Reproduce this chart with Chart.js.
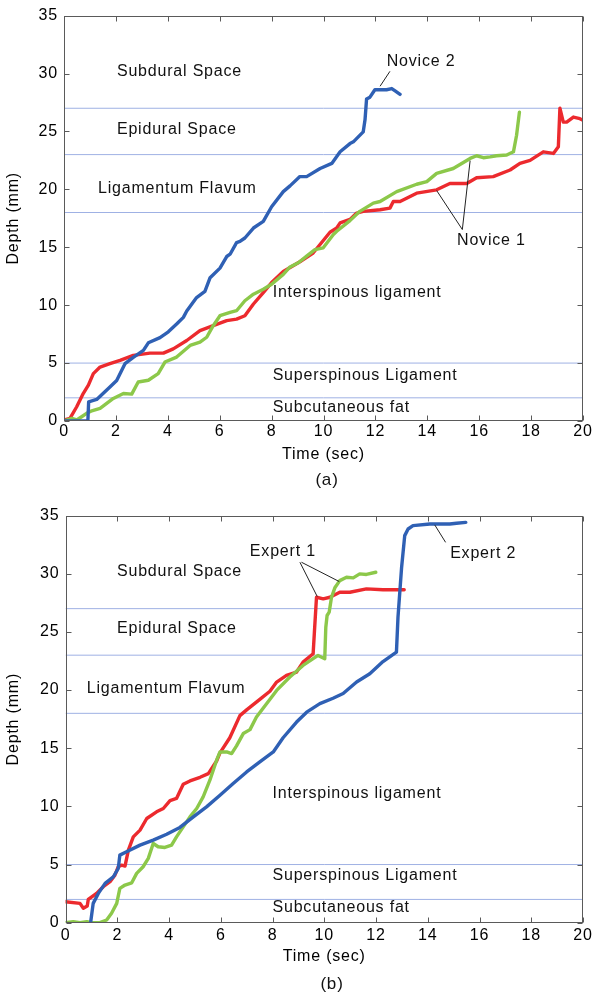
<!DOCTYPE html>
<html>
<head>
<meta charset="utf-8">
<script src="https://cdn.jsdelivr.net/npm/chart.js@4.4.1/dist/chart.umd.min.js"></script>
<style>
html,body{margin:0;padding:0;background:#fff;}
#wrap{width:599px;height:1001px;overflow:hidden;}
canvas{display:block;}
</style>
</head>
<body>
<div id="wrap">
<canvas id="chartA" width="599" height="500"></canvas>
<canvas id="chartB" width="599" height="501"></canvas>
</div>
<script>
// ---------- axis ranges / ticks ----------
const X_MIN = 0, X_MAX = 20, X_STEP = 2;
const Y_MIN = 0, Y_MAX = 35, Y_STEP = 5;
const X_TITLE = 'Time (sec)';
const Y_TITLE = 'Depth (mm)';

// ---------- tissue boundaries (mm) and names ----------
const boundaries = [2, 5, 18, 23, 27];
const regionNames = ['Subdural Space', 'Epidural Space', 'Ligamentum Flavum',
                     'Interspinous ligament', 'Superspinous Ligament', 'Subcutaneous fat'];

// ---------- (a) Novice 2 (blue) ----------
const novice2T = [0, 0.5, 0.92, 0.95, 1.26, 1.77, 2.03, 2.35, 2.67, 3.06, 3.25, 3.7, 4.02, 4.34, 4.6, 4.73, 5.11, 5.43, 5.63, 6.01, 6.27, 6.4, 6.65, 6.78, 6.97, 7.3, 7.68, 8.0, 8.45, 8.71, 9.09, 9.35, 9.87, 10.32, 10.64, 11.02, 11.15, 11.53, 11.6, 11.66, 11.79, 11.98, 12.43, 12.63, 12.76, 12.95];
const novice2D = [0, 0, 0, 1.66, 1.86, 2.94, 3.5, 4.95, 5.5, 6.1, 6.75, 7.2, 7.7, 8.37, 8.95, 9.5, 10.66, 11.2, 12.37, 13.2, 14.2, 14.4, 15.4, 15.5, 15.8, 16.66, 17.24, 18.5, 19.8, 20.3, 21.1, 21.1, 21.8, 22.24, 23.24, 23.95, 24.1, 24.96, 26.0, 27.8, 27.96, 28.6, 28.6, 28.7, 28.5, 28.2];

// ---------- (a) Novice 1, trial red ----------
const novice1RedT = [0, 0.23, 0.49, 0.74, 0.94, 1.13, 1.39, 1.77, 2.16, 2.67, 3.31, 3.83, 4.21, 4.73, 5.24, 5.75, 6.27, 6.65, 6.97, 7.3, 7.68, 8.0, 8.45, 9.09, 9.6, 10.25, 10.51, 10.64, 11.02, 11.28, 11.53, 12.18, 12.56, 12.69, 12.95, 13.59, 14.36, 14.87, 15.52, 15.9, 16.54, 17.19, 17.57, 17.96, 18.47, 18.86, 19.05, 19.11, 19.24, 19.37, 19.63, 19.88, 20.0];
const novice1RedD = [0.09, 0.23, 1.23, 2.37, 3.09, 4.09, 4.66, 4.95, 5.23, 5.66, 5.86, 5.86, 6.23, 6.95, 7.8, 8.23, 8.66, 8.8, 9.09, 10.1, 11.09, 11.95, 12.9, 13.75, 14.5, 16.3, 16.66, 17.1, 17.4, 17.95, 18.1, 18.24, 18.38, 18.95, 18.95, 19.67, 19.96, 20.5, 20.5, 21.0, 21.1, 21.67, 22.24, 22.5, 23.24, 23.1, 23.67, 27.0, 25.8, 25.8, 26.24, 26.1, 25.96];

// ---------- (a) Novice 1, trial green ----------
const novice1GreenT = [0, 0.3, 0.49, 0.68, 0.87, 1.07, 1.39, 1.9, 2.29, 2.61, 2.86, 3.25, 3.63, 3.89, 4.34, 4.86, 5.24, 5.5, 5.75, 6.01, 6.4, 6.65, 6.97, 7.3, 7.68, 8.0, 8.45, 8.71, 9.03, 9.35, 9.67, 9.99, 10.38, 10.51, 11.02, 11.4, 11.92, 12.18, 12.82, 13.59, 13.98, 14.36, 15.0, 15.65, 15.9, 16.16, 16.42, 16.67, 17.06, 17.32, 17.44, 17.55];
const novice1GreenD = [0, 0.23, 0.09, 0.37, 0.66, 0.88, 1.09, 1.95, 2.37, 2.32, 3.37, 3.52, 4.09, 5.09, 5.52, 6.52, 6.8, 7.23, 8.23, 9.09, 9.37, 9.52, 10.38, 10.95, 11.38, 11.8, 12.66, 13.3, 13.66, 14.24, 14.8, 14.95, 16.1, 16.38, 17.3, 18.1, 18.81, 18.95, 19.8, 20.44, 20.67, 21.38, 21.8, 22.67, 22.9, 22.73, 22.8, 22.9, 22.96, 23.24, 24.67, 26.67];

// ---------- (b) Expert 2 (blue) ----------
const expert2T = [0.97, 1.07, 1.27, 1.53, 1.85, 2.04, 2.1, 2.36, 2.88, 3.39, 3.91, 4.42, 4.94, 5.45, 5.97, 6.48, 7.0, 7.51, 8.03, 8.41, 8.93, 9.32, 9.83, 10.34, 10.73, 11.25, 11.76, 12.27, 12.79, 12.85, 12.99, 13.11, 13.24, 13.43, 14.08, 14.85, 15.11, 15.47];
const expert2D = [0, 1.66, 2.52, 3.38, 3.95, 4.67, 5.81, 6.1, 6.67, 7.1, 7.61, 8.19, 9.1, 9.96, 10.96, 11.96, 12.96, 13.82, 14.68, 15.9, 17.25, 18.1, 18.83, 19.3, 19.7, 20.7, 21.4, 22.45, 23.26, 26.27, 30.56, 33.28, 33.85, 34.14, 34.28, 34.28, 34.34, 34.42];

// ---------- (b) Expert 1, trial red ----------
const expert1RedT = [0, 0.56, 0.69, 0.84, 0.88, 1.2, 1.46, 1.72, 1.91, 2.04, 2.17, 2.3, 2.43, 2.62, 2.88, 3.14, 3.52, 3.78, 4.04, 4.29, 4.55, 4.81, 5.2, 5.52, 5.84, 5.97, 6.35, 6.74, 7.0, 7.51, 7.9, 8.16, 8.54, 8.93, 9.18, 9.57, 9.62, 9.7, 9.96, 10.22, 10.6, 10.99, 11.63, 12.27, 13.09];
const expert1RedD = [1.8, 1.66, 1.24, 1.43, 2.0, 2.52, 3.09, 3.52, 4.09, 4.81, 4.95, 4.87, 6.24, 7.38, 7.96, 8.96, 9.53, 9.82, 10.5, 10.68, 11.9, 12.19, 12.5, 12.82, 13.9, 14.6, 15.9, 17.8, 18.3, 19.2, 19.9, 20.69, 21.26, 21.55, 22.4, 23.12, 25.0, 27.98, 27.84, 27.98, 28.41, 28.41, 28.7, 28.62, 28.62];

// ---------- (b) Expert 1, trial green ----------
const expert1GreenT = [0, 0.3, 0.56, 0.82, 1.01, 1.33, 1.59, 1.78, 1.98, 2.1, 2.3, 2.56, 2.75, 3.0, 3.2, 3.39, 3.58, 3.84, 4.1, 4.29, 4.55, 4.81, 5.07, 5.32, 5.58, 5.84, 5.97, 6.23, 6.42, 6.61, 6.87, 7.13, 7.38, 7.77, 8.16, 8.67, 9.18, 9.57, 9.76, 10.02, 10.06, 10.11, 10.19, 10.28, 10.41, 10.6, 10.86, 11.12, 11.37, 11.63, 11.99];
const expert1GreenD = [0, 0.09, 0, 0.09, 0, 0, 0.23, 0.81, 1.66, 2.95, 3.24, 3.43, 4.24, 4.81, 5.53, 6.81, 6.53, 6.47, 6.67, 7.38, 8.24, 9.1, 9.82, 10.82, 12.25, 13.97, 14.68, 14.68, 14.54, 15.2, 16.26, 16.6, 17.68, 18.83, 19.97, 21.12, 22.12, 22.7, 22.98, 22.7, 25.4, 26.41, 26.7, 27.98, 28.79, 29.41, 29.7, 29.65, 29.99, 29.94, 30.13];

// ---------- styling ----------
const BLUE = '#2f60b4', RED = '#ec2a2e', GREEN = '#8cc84a';
const BOUND_COLOR = '#9fb1e4';
const FRAME_COLOR = '#5a5a5a';
const FAMILY = "'Liberation Sans', Arial, Helvetica, sans-serif";
const FONT = { family: FAMILY, size: 16, lineHeight: 1.2 };
const LETTER_SPACING = '0.8px';

const decorStore = {};

const decorPlugin = {
  id: 'decor',
  beforeDraw(chart) {
    chart.ctx.letterSpacing = LETTER_SPACING;
  },
  afterDatasetsDraw(chart) {
    const cfg = decorStore[chart.canvas.id];
    const { ctx, chartArea: a } = chart;
    const xs = chart.scales.x, ys = chart.scales.y;
    ctx.save();
    ctx.letterSpacing = LETTER_SPACING;
    // frame
    ctx.strokeStyle = FRAME_COLOR;
    ctx.lineWidth = 1;
    const L = Math.round(a.left) + 0.5, R = Math.round(a.right) - 0.5;
    const T = Math.round(a.top) + 0.5, B = Math.round(a.bottom) - 0.5;
    ctx.strokeRect(L, T, R - L, B - T);
    // inward tick marks on all four sides
    const TL = 5;
    ctx.beginPath();
    xs.ticks.forEach(tk => {
      const p = Math.round(xs.getPixelForValue(tk.value)) + 0.5;
      ctx.moveTo(p, T); ctx.lineTo(p, T + TL);
      ctx.moveTo(p, B); ctx.lineTo(p, B - TL);
    });
    ys.ticks.forEach(tk => {
      const p = Math.round(ys.getPixelForValue(tk.value)) + 0.5;
      ctx.moveTo(L, p); ctx.lineTo(L + TL, p);
      ctx.moveTo(R, p); ctx.lineTo(R - TL, p);
    });
    ctx.stroke();
    // tissue region names
    ctx.fillStyle = '#111';
    ctx.font = `${FONT.size}px ${FAMILY}`;
    ctx.textBaseline = 'middle';
    ctx.textAlign = 'left';
    cfg.regionPos.forEach((p, i) => {
      ctx.fillText(regionNames[i], xs.getPixelForValue(p[0]), ys.getPixelForValue(p[1]));
    });
    // callouts
    ctx.textAlign = 'center';
    ctx.strokeStyle = '#222';
    cfg.notes.forEach(n => {
      ctx.fillText(n.text, xs.getPixelForValue(n.at[0]), ys.getPixelForValue(n.at[1]));
      ctx.beginPath();
      n.lines.forEach(l => {
        ctx.moveTo(xs.getPixelForValue(l[0]), ys.getPixelForValue(l[1]));
        ctx.lineTo(xs.getPixelForValue(l[2]), ys.getPixelForValue(l[3]));
      });
      ctx.stroke();
    });
    // panel caption
    ctx.font = `17px ${FAMILY}`;
    ctx.fillText(cfg.caption, cfg.captionX, cfg.captionY);
    ctx.restore();
  }
};

function series(t, d, color) {
  return {
    data: t.map((v, i) => ({ x: v, y: d[i] })),
    borderColor: color, borderWidth: 3.4, pointRadius: 0, tension: 0, fill: false,
    borderJoinStyle: 'round', borderCapStyle: 'round'
  };
}

function build(id, cfg) {
  decorStore[id] = cfg;
  const datasets = cfg.series.slice();
  boundaries.forEach(b => datasets.push({
    data: [{ x: X_MIN, y: b }, { x: X_MAX, y: b }],
    borderColor: BOUND_COLOR, borderWidth: 1, pointRadius: 0, tension: 0, fill: false
  }));
  new Chart(document.getElementById(id), {
    type: 'line',
    data: { datasets },
    options: {
      responsive: false, animation: false, devicePixelRatio: 1,
      layout: { padding: { top: cfg.top, right: 16, left: 0, bottom: 0 } },
      plugins: { legend: { display: false }, tooltip: { enabled: false }, title: { display: false } },
      scales: {
        x: {
          type: 'linear', min: X_MIN, max: X_MAX,
          ticks: { stepSize: X_STEP, padding: cfg.xTickPad, color: '#000', font: FONT, maxRotation: 0, autoSkip: false },
          grid: { display: false, drawTicks: false }, border: { display: false },
          title: { display: true, text: X_TITLE, color: '#000', font: FONT, padding: { top: 0, bottom: cfg.xTitlePad } },
          afterFit(s) { s.height = cfg.xH; }
        },
        y: {
          type: 'linear', min: Y_MIN, max: Y_MAX,
          ticks: { stepSize: Y_STEP, padding: 6, color: '#000', font: FONT },
          grid: { display: false, drawTicks: false }, border: { display: false },
          title: { display: true, text: Y_TITLE, color: '#000', font: FONT, padding: { top: 4.4, bottom: 0 } },
          afterFit(s) { s.width = cfg.yW; }
        }
      }
    },
    plugins: [decorPlugin]
  });
}

build('chartA', {
  series: [
    series(novice2T, novice2D, BLUE),
    series(novice1GreenT, novice1GreenD, GREEN),
    series(novice1RedT, novice1RedD, RED)
  ],
  top: 13, xH: 79, yW: 64, xTickPad: 1.4, xTitlePad: 35.4,
  regionPos: [[2.04, 30.2], [2.04, 25.2], [1.31, 20.07], [8.04, 11.09], [8.04, 3.89], [8.04, 1.2]],
  notes: [
    { text: 'Novice 2', at: [13.76, 31.05], lines: [[12.56, 30.19, 12.18, 28.9]] },
    { text: 'Novice 1', at: [16.47, 15.61], lines: [[15.35, 16.53, 14.36, 19.9], [15.35, 16.53, 15.65, 22.47]] }
  ],
  caption: '(a)', captionX: 327, captionY: 480.5
});

build('chartB', {
  series: [
    series(expert2T, expert2D, BLUE),
    series(expert1GreenT, expert1GreenD, GREEN),
    series(expert1RedT, expert1RedD, RED)
  ],
  top: 15, xH: 78.3, yW: 65.5, xTickPad: 3, xTitlePad: 34.4,
  regionPos: [[1.99, 30.19], [1.99, 25.27], [0.82, 20.17], [8.0, 11.13], [8.0, 4.01], [8.0, 1.26]],
  notes: [
    { text: 'Expert 1', at: [8.4, 31.9], lines: [[9.06, 30.99, 9.73, 28.04], [9.12, 30.99, 10.58, 29.33]] },
    { text: 'Expert 2', at: [16.14, 31.71], lines: [[14.69, 32.7, 14.27, 34.2]] }
  ],
  caption: '(b)', captionX: 332, captionY: 484
});
</script>
</body>
</html>
